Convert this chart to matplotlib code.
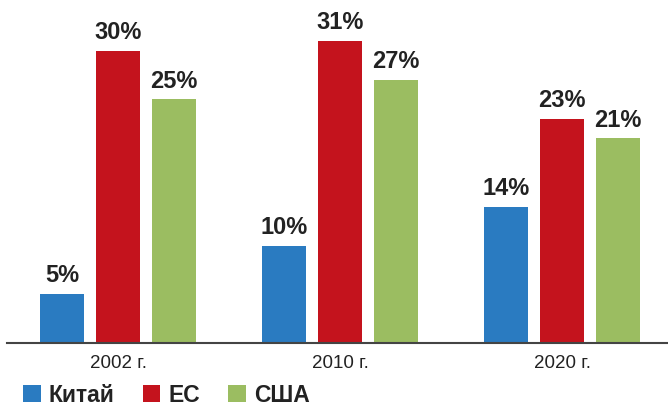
import numpy as np
import matplotlib
matplotlib.use("Agg")
import matplotlib.pyplot as plt

years = ["2002 г.", "2010 г.", "2020 г."]
series = ["Китай", "ЕС", "США"]
china = [5, 10, 14]
eu = [30, 31, 23]
usa = [25, 27, 21]
colors = ["#2a7bc1", "#c4131d", "#9bbd61"]

plt.rcParams["font.family"] = ["Liberation Sans", "DejaVu Sans"]

W, H = 668, 407
fig = plt.figure(figsize=(W / 100, H / 100), dpi=100)
# axes in pixels: left 7, right 668, baseline at y=343 from top
ax = fig.add_axes([7 / W, 64 / H, 661 / W, 343 / H])

x = np.arange(len(years))
width = 44 / 222
step = 56 / 222
for k, (name, vals) in enumerate(zip(series, [china, eu, usa])):
    pos = x + (k - 1) * step
    ax.bar(pos, vals, width, color=colors[k], label=name, linewidth=0)
    for xb, v in zip(pos, vals):
        ax.annotate(f"{v}%", (xb, v), xytext=(0, 5), textcoords="offset points",
                    ha="center", va="bottom", fontsize=17, fontweight="bold",
                    color="#222222")

ax.set_xlim((7 - 118) / 222, (668 - 118) / 222)
ax.set_ylim(0, 343 / 9.74)
for s in ["top", "right", "left"]:
    ax.spines[s].set_visible(False)
ax.spines["bottom"].set_color("#444444")
ax.spines["bottom"].set_linewidth(1.5)
ax.set_yticks([])
ax.set_xticks(x)
ax.set_xticklabels(years, fontsize=13.5, color="#222222")
ax.tick_params(axis="x", length=0, pad=9)

fig.legend(loc="center left", bbox_to_anchor=(23 / W, 12 / H), ncol=3, frameon=False,
           borderpad=0, borderaxespad=0,
           handlelength=0.77, handleheight=0.77, handletextpad=0.36, columnspacing=1.22,
           prop={"size": 16.5, "weight": "bold"}, labelcolor="#222222")

fig.savefig("out.png", dpi=100)
